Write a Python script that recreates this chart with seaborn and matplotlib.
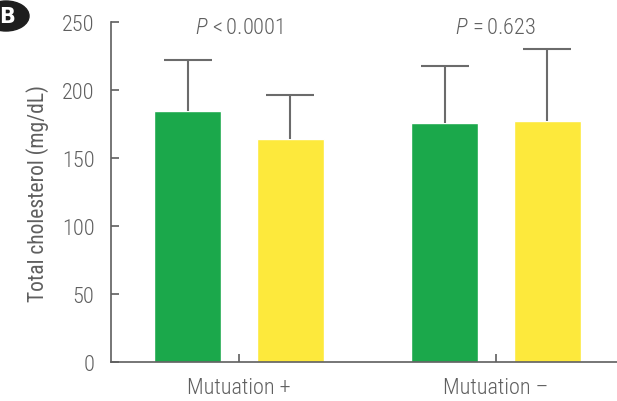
import matplotlib
matplotlib.use("Agg")
import matplotlib.pyplot as plt
import seaborn as sns
import pandas as pd
from matplotlib.patches import Circle

# Values
groups = ["Mutuation +", "Mutuation \u2013"]
subgroups = ["Group A", "Group B"]
means = [184.5, 164.0, 175.5, 177.5]
sds = [37.5, 32.0, 42.0, 52.5]
p_labels = ["$P\\,{<}$0.0001", "$P\\,{=}$0.623"]
yticks = [0, 50, 100, 150, 200, 250]

df = pd.DataFrame({
    "group": [g for g in groups for _ in subgroups],
    "sub": subgroups * len(groups),
    "mean": means,
})

sns.set_style("white")
plt.rcParams["font.family"] = ["Roboto Condensed", "DejaVu Sans"]
plt.rcParams["font.weight"] = "light"
plt.rcParams["mathtext.fontset"] = "custom"
plt.rcParams["mathtext.rm"] = "Roboto Condensed:light"
plt.rcParams["mathtext.it"] = "Roboto Condensed:italic:light"
grey = "#5f5f5f"

fig = plt.figure(figsize=(6.17, 4.02), dpi=100)
ax = fig.add_axes([111 / 617, 1 - 363 / 402, 1 - 111 / 617, (363 - 23) / 402])

sns.barplot(data=df, x="group", y="mean", hue="sub", order=groups, hue_order=subgroups,
            palette=["#1ba84b", "#fde93c"], errorbar=None, gap=0.35, width=0.8,
            legend=False, saturation=1, ax=ax)

# upper-only error bars at each bar's centre
for patch, m, s in zip(sorted(ax.patches, key=lambda p: p.get_x()), means, sds):
    xc = patch.get_x() + patch.get_width() / 2
    _, caps, _ = ax.errorbar(xc, m, yerr=[[0], [s]], color="#6b6b6b", lw=1.5,
                             capsize=17, capthick=1.5)
    caps[0].set_visible(False)

for i, lab in enumerate(p_labels):
    ax.text(i, 246, lab, ha="center", va="center", fontsize=16, color=grey)

ax.set_ylim(0, 250)
ax.set_xlim(-0.498, 1.471)
ax.set_yticks(yticks)
ax.set_xlabel("")
ax.set_ylabel("Total cholesterol (mg/dL)", fontsize=15.5, color=grey, labelpad=9)
ax.tick_params(axis="both", direction="in", length=6, width=1.2, color=grey,
               labelcolor=grey, labelsize=16, pad=12, bottom=True, left=True)
ax.tick_params(axis="x", labelsize=16, pad=11)
for side in ["top", "right"]:
    ax.spines[side].set_visible(False)
for side in ["left", "bottom"]:
    ax.spines[side].set_color(grey)
    ax.spines[side].set_linewidth(1.2)

# badge "B"
fig.patches.append(Circle((6 / 617, 1 - 17 / 402), 15 / 402, transform=fig.transFigure,
                          color="#1e1e1e", clip_on=False))
fig.text(7 / 617, 1 - 17 / 402, "B", ha="center", va="center", color="white",
         fontsize=15, fontweight="bold", family="DejaVu Sans")

fig.savefig("out.png", dpi=100)
